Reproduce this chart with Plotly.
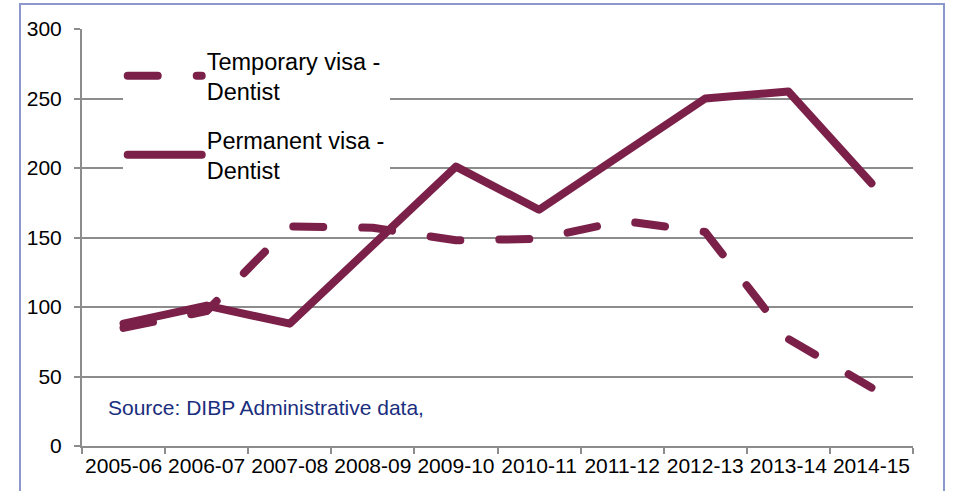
import plotly.graph_objects as go

# Financial years on the category axis
years = ["2005-06", "2006-07", "2007-08", "2008-09", "2009-10",
         "2010-11", "2011-12", "2012-13", "2013-14", "2014-15"]

# Visa grants to dentists
temporary_dentist = [85, 97, 158, 157, 148, 149, 162, 154, 77, 42]
permanent_dentist = [88, 101, 88, 145, 201, 170, 210, 250, 255, 189]

y_ticks = [0, 50, 100, 150, 200, 250, 300]

MAROON = "#7B2149"
GRID = "#8C8C8C"
FONT = "Liberation Sans, Arial, sans-serif"

fig = go.Figure()

fig.add_trace(go.Scatter(
    x=years, y=temporary_dentist, mode="lines",
    name="Temporary visa -<br>Dentist", legendgroup="temporary",
    line=dict(color=MAROON, width=8, dash="30px,39px"),
))
fig.add_trace(go.Scatter(
    x=years, y=permanent_dentist, mode="lines",
    name="Permanent visa -<br>Dentist", legendgroup="permanent",
    line=dict(color=MAROON, width=8),
))

fig.update_layout(
    width=956, height=491,
    margin=dict(l=82, r=43, t=29, b=45, autoexpand=False),
    paper_bgcolor="white", plot_bgcolor="white",
    font=dict(family=FONT, size=21, color="black"),
    showlegend=True,
    legend=dict(
        x=0.049, y=0.977, xanchor="left", yanchor="top",
        bgcolor="white", borderwidth=0,
        font=dict(size=23.5, family=FONT, color="black"),
        tracegroupgap=15, itemwidth=74,
    ),
    xaxis=dict(
        type="category", range=[-0.5, 9.5],
        showgrid=False, showline=True, linecolor=GRID, linewidth=2,
        ticks="outside", ticklen=6, tickcolor=GRID, tickwidth=2,
        tickson="boundaries", tickfont=dict(size=21), tickangle=0,
        automargin=False, zeroline=False, fixedrange=True,
    ),
    yaxis=dict(
        range=[0, 300], tickvals=y_ticks,
        showgrid=True, gridcolor=GRID, gridwidth=2,
        showline=True, linecolor=GRID, linewidth=2,
        ticks="outside", ticklen=6, tickcolor=GRID, tickwidth=2,
        tickfont=dict(size=21), ticklabelstandoff=8,
        automargin=False, zeroline=False, fixedrange=True,
    ),
    shapes=[dict(
        type="rect", xref="paper", yref="paper",
        x0=-62 / 831, x1=(944 - 82) / 831,
        y0=-60 / 417, y1=(446 - 4) / 417,
        line=dict(color="#8C98CC", width=2), fillcolor="rgba(0,0,0,0)",
        layer="above",
    )],
    annotations=[dict(
        text="Source: DIBP Administrative data,",
        xref="paper", yref="y", x=24 / 831, y=28,
        xanchor="left", yanchor="middle", showarrow=False,
        font=dict(size=21, color="#1A2E7E", family=FONT),
    )],
)

# Round line caps and joins, as in the original drawing
post = """
var paint = function(){
  document.querySelectorAll('.js-line, .legendlines path').forEach(function(p){
    p.style.strokeLinecap = 'round';
    p.style.strokeLinejoin = 'round';
  });
};
paint();
var gd = document.querySelector('.plotly-graph-div');
if (gd && gd.on) { gd.on('plotly_afterplot', paint); }
"""

fig.write_html("out.html", post_script=post)
